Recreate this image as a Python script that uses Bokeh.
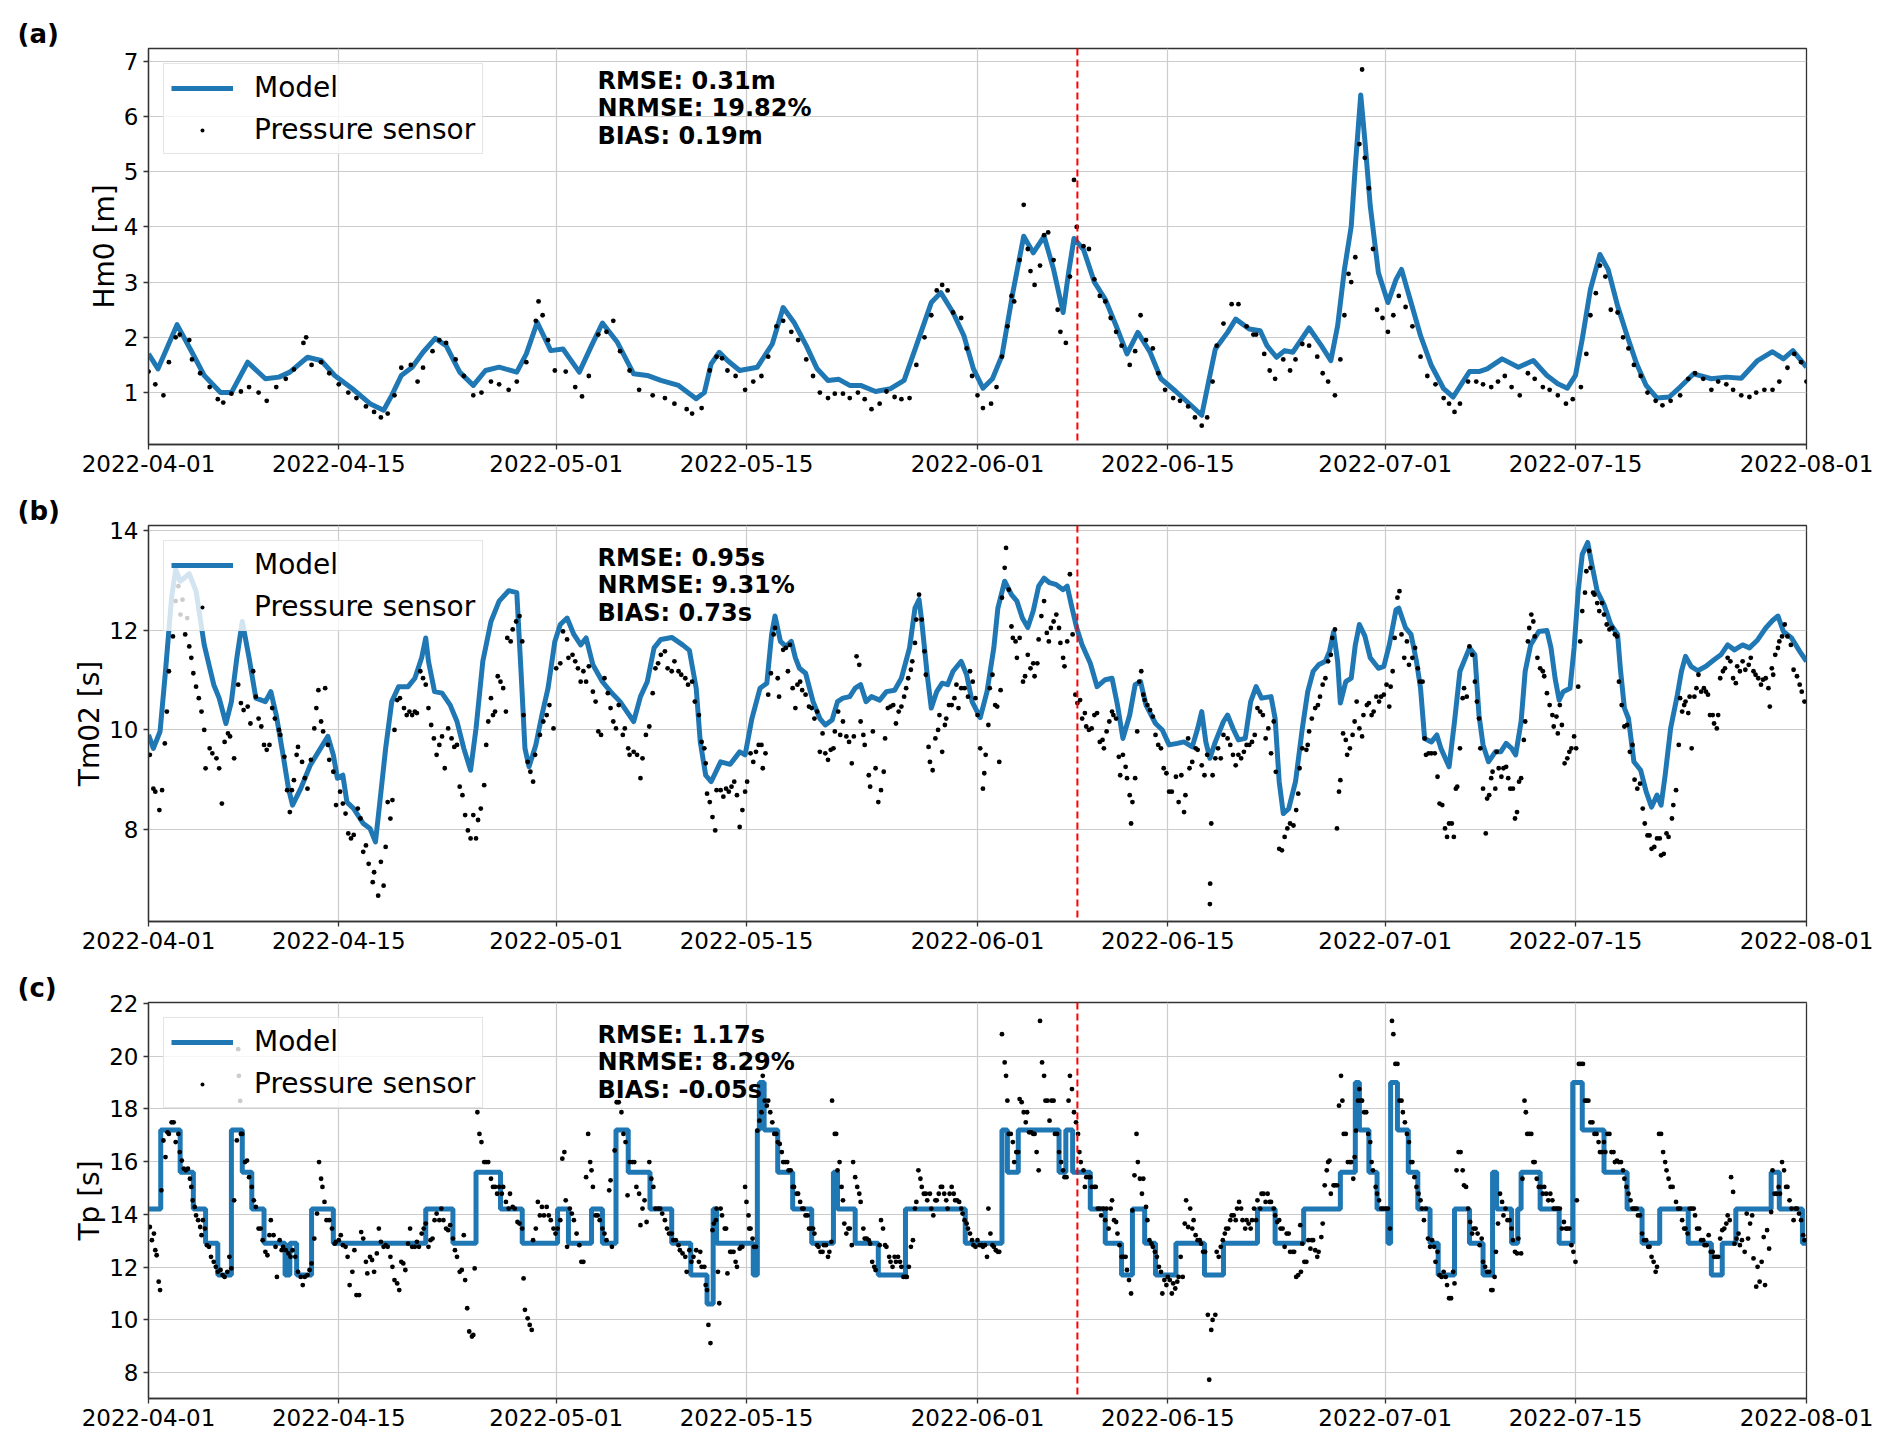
import pandas as pd
from bokeh.plotting import figure
from bokeh.layouts import column
from bokeh.models import Range1d, Span, Label, Legend, LegendItem
from bokeh.embed import file_html
from bokeh.resources import INLINE

# ---------------- data ----------------
START = "2022-04-01"
END = "2022-08-01"
tick_dates = ["2022-04-01", "2022-04-15", "2022-05-01", "2022-05-15", "2022-06-01",
              "2022-06-15", "2022-07-01", "2022-07-15", "2022-08-01"]
split_date = "2022-06-08 08:24"   # red dashed line

# (day since 2022-04-01, value)
hm0_model = [
    (0, 1.70), (0.7, 1.43), (2.1, 2.23), (3.2, 1.73), (4.1, 1.31), (5.3, 1.0), (6.1, 1.0), (7.3, 1.55),
    (8.6, 1.25), (9.6, 1.28), (10.4, 1.37), (11.7, 1.64), (12.7, 1.58), (13.7, 1.31), (15.0, 1.07),
    (16.3, 0.8), (17.3, 0.68), (17.9, 0.95), (18.6, 1.31), (19.4, 1.46), (20.2, 1.73), (21.1, 1.98),
    (21.9, 1.85), (22.9, 1.37), (23.9, 1.13), (24.8, 1.40), (25.8, 1.46), (27.1, 1.37), (27.8, 1.70),
    (28.6, 2.27), (29.6, 1.76), (30.5, 1.79), (31.7, 1.37), (32.6, 1.85), (33.4, 2.26), (34.5, 1.91),
    (35.7, 1.34), (36.7, 1.31), (37.7, 1.22), (39.0, 1.13), (40.3, 0.89), (40.9, 1.0), (41.4, 1.52),
    (42.0, 1.73), (42.6, 1.58), (43.5, 1.40), (44.8, 1.46), (45.9, 1.88), (46.7, 2.54), (47.5, 2.27),
    (48.4, 1.85), (49.2, 1.43), (50.0, 1.22), (50.8, 1.24), (51.6, 1.13), (52.4, 1.13), (53.5, 1.02),
    (54.6, 1.07), (55.6, 1.22), (56.5, 1.85), (57.6, 2.63), (58.3, 2.81), (59.2, 2.45), (60.0, 2.03),
    (60.7, 1.43), (61.4, 1.08), (62.1, 1.25), (62.8, 1.67), (63.6, 2.81), (64.4, 3.83), (65.1, 3.53),
    (65.9, 3.83), (66.6, 3.23), (67.3, 2.45), (67.7, 3.17), (68.1, 3.79), (68.8, 3.59), (69.6, 3.0),
    (70.4, 2.69), (71.2, 2.21), (72.0, 1.70), (72.8, 2.09), (73.7, 1.73), (74.5, 1.25), (75.6, 1.02),
    (76.7, 0.77), (77.5, 0.59), (78.0, 1.19), (78.5, 1.79), (79.4, 2.09), (80.0, 2.33), (81.0, 2.15),
    (81.8, 2.12), (82.3, 1.85), (83.0, 1.64), (83.6, 1.76), (84.2, 1.73), (85.4, 2.17), (86.3, 1.85),
    (87.0, 1.58), (87.5, 2.21), (88.0, 3.23), (88.5, 4.01), (88.8, 5.10), (89.2, 6.39), (89.5, 5.58),
    (89.9, 4.38), (90.5, 3.17), (91.2, 2.63), (91.8, 3.05), (92.2, 3.23), (92.9, 2.63), (93.6, 2.03),
    (94.4, 1.49), (95.3, 1.07), (96.0, 0.92), (96.7, 1.19), (97.2, 1.38), (97.9, 1.38), (98.5, 1.43),
    (99.6, 1.61), (100.8, 1.46), (101.9, 1.58), (102.9, 1.31), (103.7, 1.16), (104.4, 1.08),
    (105.0, 1.31), (105.5, 1.97), (106.1, 2.87), (106.8, 3.50), (107.4, 3.23), (108.1, 2.57),
    (108.8, 2.03), (109.5, 1.52), (110.2, 1.13), (111.0, 0.90), (111.9, 0.92), (112.7, 1.10),
    (113.7, 1.34), (115.0, 1.25), (116.1, 1.28), (117.2, 1.26), (118.4, 1.58), (119.5, 1.74),
    (120.3, 1.61), (121.0, 1.76), (122.0, 1.46)]

hm0_sensor = [
    (0.0, 1.38), (0.5, 1.15), (1.1, 0.95), (1.5, 1.55), (2.0, 2.0), (2.3, 2.05), (3.0, 1.95), (3.2, 1.6),
    (3.8, 1.35), (4.5, 1.1), (5.1, 0.88), (5.5, 0.82), (6.1, 0.98), (6.8, 1.02), (7.4, 1.1), (8.1, 1.0),
    (8.7, 0.85), (9.4, 1.1), (10.1, 1.25), (10.7, 1.42), (11.4, 1.9), (11.6, 2.0), (12.0, 1.5), (12.7, 1.55),
    (13.3, 1.35), (14.0, 1.15), (14.7, 1.0), (15.3, 0.9), (16.0, 0.75), (16.6, 0.65), (17.1, 0.55),
    (17.6, 0.62), (18.1, 0.95), (18.6, 1.45), (19.3, 1.5), (19.8, 1.2), (20.2, 1.45), (20.9, 1.75),
    (21.4, 1.95), (21.9, 1.9), (22.6, 1.6), (23.2, 1.3), (23.9, 0.95), (24.5, 1.0), (25.2, 1.2),
    (25.8, 1.15), (26.5, 1.05), (27.1, 1.2), (27.8, 1.55), (28.5, 2.3), (28.7, 2.65), (29.0, 2.4),
    (29.4, 1.95), (29.9, 1.4), (30.7, 1.38), (31.4, 1.1), (31.9, 0.93), (32.4, 1.3), (33.1, 2.05),
    (33.7, 2.1), (34.2, 2.3), (34.7, 1.75), (35.4, 1.4), (36.1, 1.05), (37.1, 0.95), (38.0, 0.9),
    (38.7, 0.8), (39.6, 0.7), (40.0, 0.62), (40.7, 0.72), (41.3, 1.4), (41.8, 1.65), (42.2, 1.62),
    (42.6, 1.4), (43.2, 1.3), (43.9, 1.05), (44.5, 1.2), (45.1, 1.3), (45.6, 1.65), (46.2, 2.2),
    (46.7, 2.3), (47.3, 2.1), (47.8, 1.95), (48.4, 1.6), (48.9, 1.3), (49.4, 1.0), (50.0, 0.9),
    (50.5, 0.98), (51.1, 0.98), (51.6, 0.9), (52.2, 1.0), (52.7, 0.88), (53.2, 0.7), (53.8, 0.8),
    (54.3, 1.02), (54.9, 0.92), (55.4, 0.88), (56.0, 0.9), (56.5, 1.5), (57.1, 2.0), (57.6, 2.4),
    (58.0, 2.85), (58.4, 2.95), (58.8, 2.85), (59.2, 2.45), (59.8, 2.35), (60.2, 1.8), (60.6, 1.3),
    (61.0, 0.95), (61.4, 0.72), (62.0, 0.8), (62.4, 1.1), (62.8, 1.65), (63.2, 2.2), (63.5, 2.75),
    (63.7, 2.65), (64.1, 3.4), (64.4, 4.4), (64.7, 3.6), (64.9, 3.2), (65.2, 2.95), (65.6, 3.3),
    (65.9, 3.85), (66.2, 3.9), (66.6, 3.4), (66.9, 2.5), (67.1, 2.1), (67.5, 1.9), (67.8, 3.1),
    (68.1, 4.85), (68.3, 4.0), (68.8, 3.65), (69.2, 3.6), (69.6, 3.05), (70.0, 2.75), (70.4, 2.65),
    (70.8, 2.35), (71.2, 2.1), (71.6, 1.85), (72.2, 1.5), (72.6, 1.75), (73.0, 2.4), (73.4, 1.95),
    (73.9, 1.8), (74.3, 1.35), (74.8, 1.05), (75.4, 0.9), (75.9, 0.85), (76.5, 0.75), (77.0, 0.55),
    (77.5, 0.4), (77.9, 0.55), (78.3, 1.2), (78.6, 1.85), (79.1, 2.25), (79.7, 2.6), (80.2, 2.6),
    (80.8, 2.2), (81.3, 2.05), (81.5, 2.05), (82.1, 1.7), (82.5, 1.4), (82.9, 1.25), (83.5, 1.6),
    (84.0, 1.4), (84.4, 1.6), (84.9, 1.88), (85.4, 1.85), (86.0, 1.65), (86.4, 1.35), (86.8, 1.2),
    (87.3, 0.95), (87.7, 1.6), (88.0, 2.4), (88.3, 3.15), (88.5, 3.0), (88.8, 3.45), (89.1, 5.5),
    (89.3, 6.85), (89.5, 5.25), (89.8, 4.7), (90.1, 3.6), (90.4, 2.5), (90.8, 2.35), (91.2, 2.1),
    (91.6, 2.4), (92.0, 2.75), (92.5, 2.55), (93.0, 2.2), (93.6, 1.65), (94.1, 1.3), (94.7, 1.15),
    (95.3, 0.9), (95.7, 0.8), (96.1, 0.65), (96.5, 0.8), (97.1, 1.2), (97.7, 1.2), (98.2, 1.15),
    (98.8, 1.1), (99.3, 1.2), (99.8, 1.3), (100.3, 1.1), (100.9, 0.95), (101.5, 1.35), (102.0, 1.25),
    (102.6, 1.1), (103.1, 1.05), (103.7, 0.95), (104.3, 0.8), (104.8, 0.88), (105.4, 1.1), (105.8, 1.7),
    (106.1, 2.4), (106.5, 2.8), (106.8, 3.3), (107.2, 3.1), (107.6, 2.5), (108.1, 2.45), (108.5, 2.0),
    (108.9, 1.8), (109.3, 1.5), (109.8, 1.3), (110.3, 1.0), (110.9, 0.85), (111.4, 0.77), (112.0, 0.85),
    (112.7, 0.95), (113.3, 1.25), (113.8, 1.35), (114.4, 1.25), (115.0, 1.05), (115.5, 1.2),
    (116.1, 1.15), (116.6, 1.05), (117.2, 0.95), (117.8, 0.92), (118.3, 1.0), (118.9, 1.05),
    (119.5, 1.05), (120.0, 1.2), (120.6, 1.45), (121.1, 1.7), (121.6, 1.55), (122.0, 1.2)]

tm02_model = [
    (0, 9.9), (0.36, 9.63), (0.85, 9.97), (1.25, 11.18), (1.7, 12.66), (2.0, 13.23), (2.33, 12.99),
    (3.0, 13.14), (3.5, 12.79), (4.1, 11.71), (4.8, 10.91), (5.2, 10.64), (5.7, 10.13), (6.1, 10.57),
    (6.5, 11.45), (6.9, 12.18), (7.4, 11.45), (7.9, 10.64), (8.6, 10.57), (9.0, 10.77), (9.4, 10.30),
    (9.9, 9.5), (10.3, 8.82), (10.6, 8.49), (11.2, 8.82), (11.9, 9.29), (12.5, 9.56), (13.2, 9.87),
    (13.6, 9.5), (13.9, 9.03), (14.3, 9.09), (14.6, 8.55), (15.1, 8.42), (15.8, 8.12), (16.3, 8.02),
    (16.7, 7.75), (17.0, 8.49), (17.45, 9.63), (17.9, 10.57), (18.4, 10.87), (19.1, 10.87), (19.6, 11.04),
    (20.1, 11.45), (20.4, 11.85), (20.6, 11.38), (21.05, 10.77), (21.6, 10.74), (22.2, 10.5),
    (22.7, 10.17), (23.2, 9.63), (23.7, 9.19), (24.1, 10.03), (24.6, 11.38), (25.2, 12.18), (25.8, 12.59),
    (26.5, 12.8), (27.1, 12.76), (27.4, 11.24), (27.7, 9.63), (28.0, 9.26), (28.5, 9.70), (28.95, 10.3),
    (29.4, 10.84), (29.9, 11.78), (30.3, 12.12), (30.8, 12.25), (31.3, 11.92), (31.8, 11.71),
    (32.2, 11.85), (32.7, 11.31), (33.4, 10.97), (34.0, 10.77), (34.7, 10.57), (35.2, 10.37),
    (35.7, 10.17), (36.2, 10.67), (36.7, 10.97), (37.2, 11.65), (37.7, 11.82), (38.5, 11.86),
    (39.3, 11.71), (39.8, 11.6), (40.3, 10.84), (40.6, 9.76), (41.0, 9.09), (41.4, 8.96), (42.1, 9.36),
    (42.8, 9.31), (43.5, 9.56), (43.9, 9.5), (44.4, 10.23), (45.0, 10.84), (45.5, 10.94), (45.85, 11.92),
    (46.1, 12.29), (46.5, 11.78), (46.9, 11.68), (47.3, 11.78), (47.6, 11.45), (47.9, 11.24),
    (48.35, 11.14), (48.9, 10.57), (49.4, 10.23), (49.8, 10.1), (50.3, 10.2), (50.7, 10.57),
    (51.1, 10.64), (51.6, 10.67), (52.0, 10.84), (52.4, 10.91), (52.8, 10.57), (53.2, 10.67),
    (53.8, 10.6), (54.3, 10.77), (54.9, 10.8), (55.4, 11.04), (56.0, 11.65), (56.4, 12.45),
    (56.7, 12.62), (56.9, 12.18), (57.3, 11.11), (57.6, 10.44), (58.0, 10.77), (58.4, 10.94),
    (58.8, 10.91), (59.2, 11.18), (59.8, 11.38), (60.2, 11.11), (60.6, 10.57), (61.2, 10.25),
    (61.7, 10.77), (62.2, 11.65), (62.5, 12.45), (63.0, 12.99), (63.5, 12.72), (63.9, 12.59),
    (64.3, 12.25), (64.7, 12.06), (65.1, 12.39), (65.5, 12.89), (65.9, 13.05), (66.3, 12.96),
    (66.8, 12.92), (67.3, 12.82), (67.6, 12.89), (67.9, 12.52), (68.3, 12.05), (68.7, 11.71),
    (69.3, 11.34), (69.8, 10.87), (70.4, 11.01), (70.9, 11.04), (71.3, 10.5), (71.7, 9.83), (72.2, 10.3),
    (72.6, 10.91), (73.0, 10.97), (73.4, 10.5), (74.1, 10.13), (74.6, 10.0), (75.1, 9.7), (75.7, 9.73),
    (76.2, 9.76), (76.8, 9.66), (77.2, 10.03), (77.5, 10.37), (77.8, 9.76), (78.1, 9.43), (78.5, 9.76),
    (79.1, 10.17), (79.4, 10.3), (79.8, 10.03), (80.2, 9.8), (80.7, 9.83), (81.1, 10.57), (81.5, 10.87),
    (81.9, 10.64), (82.6, 10.67), (82.9, 10.23), (83.2, 8.96), (83.5, 8.32), (83.9, 8.42), (84.4, 8.96),
    (84.9, 10.03), (85.3, 10.77), (85.7, 11.18), (86.1, 11.31), (86.6, 11.38), (86.9, 11.58),
    (87.2, 11.97), (87.5, 11.38), (87.7, 10.54), (88.1, 10.97), (88.5, 11.04), (88.8, 11.71),
    (89.1, 12.12), (89.5, 11.89), (89.9, 11.45), (90.5, 11.24), (90.9, 11.28), (91.3, 11.71),
    (91.8, 12.42), (92.0, 12.45), (92.5, 12.05), (92.9, 11.92), (93.3, 11.38), (93.6, 10.84),
    (93.9, 9.83), (94.4, 9.76), (94.8, 9.9), (95.1, 9.63), (95.7, 9.26), (96.1, 10.17), (96.5, 11.18),
    (96.9, 11.45), (97.2, 11.65), (97.6, 11.51), (97.9, 10.3), (98.2, 9.7), (98.6, 9.36), (99.1, 9.56),
    (99.5, 9.56), (99.9, 9.73), (100.3, 9.63), (100.6, 9.5), (101.0, 10.17), (101.3, 11.18),
    (101.7, 11.71), (102.3, 11.98), (102.9, 12.0), (103.2, 11.65), (103.5, 11.04), (103.8, 10.6),
    (104.1, 10.77), (104.6, 10.84), (104.9, 11.65), (105.2, 12.79), (105.5, 13.53), (105.9, 13.77),
    (106.2, 13.33), (106.6, 12.79), (107.1, 12.52), (107.6, 12.12), (108.1, 11.92), (108.3, 11.24),
    (108.6, 10.44), (108.9, 10.23), (109.3, 9.36), (109.8, 9.19), (110.2, 8.76), (110.6, 8.45),
    (111.0, 8.69), (111.3, 8.49), (111.6, 9.09), (112.0, 10.03), (112.5, 10.71), (112.8, 11.18),
    (113.1, 11.48), (113.5, 11.28), (114.0, 11.19), (114.6, 11.28), (115.2, 11.41), (115.7, 11.51),
    (116.2, 11.71), (116.7, 11.61), (117.3, 11.71), (117.8, 11.65), (118.4, 11.81), (119.0, 12.05),
    (119.5, 12.2), (119.9, 12.29), (120.3, 11.98), (120.9, 11.85), (121.5, 11.58), (122.0, 11.38)]

tm02_sensor = [
    (0.1, 9.5), (0.36, 8.82), (0.5, 8.76), (0.8, 8.39), (1.0, 8.79), (1.2, 9.73), (1.35, 10.37), (1.5, 11.18),
    (1.8, 11.88), (2.0, 12.59), (2.2, 12.89), (2.35, 12.32), (2.5, 12.62), (2.7, 11.92), (2.85, 12.25),
    (3.0, 11.68), (3.15, 11.45), (3.3, 11.14), (3.5, 10.87), (3.7, 10.64), (3.9, 10.37), (4.1, 10.0),
    (4.2, 9.23), (4.5, 9.63), (4.7, 9.53), (5.0, 9.43), (5.2, 9.23), (5.4, 8.52), (5.6, 9.76), (5.85, 9.93),
    (6.0, 9.87), (6.3, 9.43), (6.6, 10.91), (6.8, 10.54), (7.0, 10.4), (7.3, 10.47), (7.5, 10.13),
    (7.7, 11.18), (7.9, 10.67), (8.1, 10.23), (8.3, 10.07), (8.5, 9.7), (8.7, 9.6), (8.9, 9.7), (9.1, 10.44),
    (9.3, 10.23), (9.6, 10.0), (9.7, 9.9), (10.0, 9.46), (10.2, 8.79), (10.4, 8.35), (10.55, 8.79),
    (10.7, 8.99), (10.9, 9.5), (11.0, 9.66), (11.3, 9.36), (11.5, 9.03), (11.7, 8.82), (11.95, 9.4),
    (12.2, 10.03), (12.35, 10.44), (12.5, 10.8), (12.7, 10.17), (12.85, 9.97), (13.0, 10.84), (13.2, 9.7),
    (13.3, 9.4), (13.6, 9.16), (13.8, 8.49), (14.1, 8.76), (14.3, 8.52), (14.5, 8.32), (14.7, 7.92),
    (14.9, 7.82), (15.1, 7.89), (15.4, 8.42), (15.6, 8.22), (15.8, 7.55), (16.0, 7.68), (16.2, 7.31),
    (16.5, 6.94), (16.6, 7.14), (16.9, 6.67), (17.1, 7.35), (17.3, 6.87), (17.45, 7.65), (17.6, 8.55),
    (17.8, 8.22), (17.95, 8.59), (18.1, 10.0), (18.3, 10.6), (18.5, 10.64), (18.8, 10.44), (19.0, 10.3),
    (19.2, 10.37), (19.4, 10.3), (19.6, 10.37), (19.75, 10.34), (20.0, 11.18), (20.2, 11.04),
    (20.4, 10.91), (20.6, 10.44), (20.8, 10.1), (21.0, 9.83), (21.2, 9.5), (21.4, 9.7), (21.6, 9.87),
    (21.8, 9.23), (22.05, 10.03), (22.3, 9.83), (22.5, 9.66), (22.7, 9.7), (22.9, 8.86), (23.1, 8.69),
    (23.3, 8.29), (23.5, 7.98), (23.7, 7.82), (23.9, 8.29), (24.1, 7.82), (24.25, 8.19), (24.45, 8.42),
    (24.7, 8.89), (24.85, 9.7), (25.0, 10.17), (25.2, 10.64), (25.35, 10.3), (25.5, 10.37), (25.7, 11.08),
    (25.9, 10.97), (26.1, 10.84), (26.3, 10.37), (26.4, 11.85), (26.65, 11.78), (26.8, 12.02),
    (27.05, 12.18), (27.3, 12.29), (27.5, 11.78), (27.6, 10.3), (27.9, 9.36), (28.1, 9.16), (28.3, 8.96),
    (28.45, 9.5), (28.8, 9.9), (29.05, 10.17), (29.3, 10.3), (29.5, 10.5), (29.8, 10.03), (30.0, 11.24),
    (30.3, 11.34), (30.5, 11.98), (30.8, 11.82), (30.9, 11.45), (31.2, 11.51), (31.4, 11.38),
    (31.6, 11.24), (31.8, 10.97), (32.0, 11.18), (32.2, 10.97), (32.4, 11.28), (32.7, 10.77),
    (32.9, 10.57), (33.1, 9.97), (33.3, 9.9), (33.55, 11.04), (33.8, 10.74), (34.0, 10.44), (34.2, 10.17),
    (34.4, 10.03), (34.6, 10.5), (34.9, 9.9), (35.05, 10.03), (35.3, 9.63), (35.4, 9.5), (35.7, 9.56),
    (35.95, 9.5), (36.2, 9.03), (36.35, 9.43), (36.6, 9.9), (36.85, 10.07), (37.1, 10.74), (37.3, 11.24),
    (37.5, 11.34), (37.7, 11.51), (38.0, 11.58), (38.2, 11.24), (38.5, 11.18), (38.7, 11.38),
    (39.0, 11.18), (39.2, 11.11), (39.5, 11.04), (39.7, 10.91), (40.0, 10.97), (40.2, 10.57), (40.5, 10.3),
    (40.7, 9.76), (40.9, 9.63), (41.0, 9.33), (41.1, 8.72), (41.3, 8.55), (41.5, 8.25), (41.7, 7.98),
    (41.8, 8.79), (42.1, 8.79), (42.3, 8.66), (42.5, 8.82), (42.7, 8.76), (42.9, 8.86), (43.1, 8.96),
    (43.3, 8.69), (43.5, 8.05), (43.7, 8.39), (43.9, 8.76), (44.05, 8.96), (44.3, 9.53), (44.5, 9.36),
    (44.7, 9.56), (44.9, 9.7), (45.1, 9.7), (45.2, 9.23), (45.4, 9.53), (45.6, 10.71), (45.8, 11.14),
    (46.0, 11.92), (46.1, 12.05), (46.3, 11.04), (46.4, 10.67), (46.7, 11.61), (46.9, 11.65),
    (47.05, 11.18), (47.2, 11.71), (47.4, 10.84), (47.6, 10.44), (47.75, 10.91), (47.95, 10.97),
    (48.1, 10.8), (48.35, 10.71), (48.6, 10.47), (48.8, 10.44), (49.0, 10.23), (49.2, 10.37), (49.4, 9.56),
    (49.6, 9.93), (49.8, 9.53), (50.0, 9.4), (50.2, 9.6), (50.4, 9.63), (50.5, 9.97), (50.75, 10.37),
    (50.9, 9.9), (51.1, 10.17), (51.35, 9.87), (51.55, 9.76), (51.75, 9.33), (51.9, 9.87), (52.1, 11.48),
    (52.3, 11.31), (52.4, 10.17), (52.6, 9.9), (52.7, 9.7), (53.0, 9.09), (53.1, 8.86), (53.3, 9.97),
    (53.5, 9.23), (53.7, 8.55), (53.9, 8.79), (54.1, 9.16), (54.2, 9.83), (54.4, 10.44), (54.6, 10.47),
    (54.8, 10.5), (55.0, 10.13), (55.2, 10.37), (55.4, 10.47), (55.6, 10.67), (55.75, 10.84),
    (55.9, 11.04), (56.1, 11.21), (56.2, 11.38), (56.4, 11.75), (56.5, 12.22), (56.7, 12.72),
    (56.9, 12.22), (57.1, 11.58), (57.2, 11.11), (57.4, 9.66), (57.5, 9.36), (57.7, 9.19), (57.9, 9.83),
    (58.1, 10.0), (58.2, 10.3), (58.4, 9.56), (58.6, 10.1), (58.7, 10.23), (58.9, 10.5), (59.1, 10.5),
    (59.3, 10.64), (59.45, 10.91), (59.6, 10.44), (59.8, 10.84), (60.05, 10.84), (60.3, 10.67),
    (60.45, 11.18), (60.65, 10.97), (60.85, 10.64), (61.0, 10.3), (61.2, 9.63), (61.4, 8.82), (61.5, 9.13),
    (61.6, 9.5), (61.8, 10.1), (61.9, 10.84), (62.1, 11.11), (62.3, 10.5), (62.45, 10.47), (62.6, 9.36),
    (62.7, 10.8), (62.8, 12.66), (63.0, 13.26), (63.1, 13.66), (63.3, 12.82), (63.5, 12.08),
    (63.6, 11.85), (63.8, 11.78), (63.9, 11.45), (64.1, 11.85), (64.35, 10.97), (64.5, 11.08),
    (64.7, 11.51), (64.9, 11.24), (65.1, 11.34), (65.2, 11.08), (65.4, 11.34), (65.5, 11.82),
    (65.7, 12.29), (65.9, 12.59), (66.1, 11.95), (66.25, 11.78), (66.4, 12.05), (66.6, 12.18),
    (66.8, 12.32), (67.0, 12.05), (67.1, 11.75), (67.3, 11.45), (67.4, 11.28), (67.6, 11.78),
    (67.8, 13.13), (68.0, 11.92), (68.2, 10.71), (68.35, 10.54), (68.55, 10.6), (68.7, 10.23),
    (68.9, 10.34), (69.0, 10.07), (69.2, 10.0), (69.4, 10.03), (69.6, 10.3), (69.8, 10.34), (70.0, 9.76),
    (70.2, 9.8), (70.3, 9.63), (70.5, 9.97), (70.7, 10.17), (70.9, 10.37), (71.0, 10.3), (71.2, 10.23),
    (71.4, 9.46), (71.5, 9.09), (71.7, 9.5), (71.9, 9.26), (72.0, 9.03), (72.2, 8.69), (72.3, 8.12),
    (72.4, 8.55), (72.6, 9.03), (72.75, 9.97), (72.9, 10.97), (73.05, 11.18), (73.2, 10.71), (73.3, 10.6),
    (73.5, 10.5), (73.7, 10.4), (73.9, 10.27), (74.1, 9.9), (74.3, 9.7), (74.5, 9.63), (74.7, 9.23),
    (74.9, 9.13), (75.1, 8.76), (75.3, 8.76), (75.6, 9.06), (75.8, 8.55), (76.0, 9.09), (76.2, 8.35),
    (76.3, 8.69), (76.5, 9.83), (76.6, 9.23), (76.8, 9.36), (77.05, 9.63), (77.2, 9.6), (77.5, 9.29),
    (77.7, 9.09), (77.9, 9.5), (78.1, 6.5), (78.12, 6.91), (78.2, 8.12), (78.3, 9.09), (78.5, 9.43),
    (78.7, 9.63), (78.9, 9.43), (79.1, 9.9), (79.4, 9.83), (79.6, 9.7), (79.8, 9.5), (80.0, 9.29),
    (80.2, 9.5), (80.4, 9.43), (80.6, 9.56), (80.8, 9.7), (81.0, 9.7), (81.2, 9.76), (81.4, 9.9),
    (81.6, 10.44), (81.8, 10.37), (82.0, 10.3), (82.2, 9.83), (82.4, 10.03), (82.6, 9.53), (82.8, 10.17),
    (82.95, 9.16), (83.2, 7.61), (83.4, 7.58), (83.6, 7.85), (83.8, 8.02), (84.0, 8.12), (84.25, 8.08),
    (84.45, 8.39), (84.6, 8.72), (84.7, 9.23), (84.9, 9.63), (85.2, 9.6), (85.3, 9.7), (85.4, 9.97),
    (85.6, 10.23), (85.85, 10.44), (86.05, 10.5), (86.2, 10.67), (86.4, 10.91), (86.6, 11.04),
    (86.8, 11.38), (87.0, 11.51), (87.1, 11.85), (87.3, 12.02), (87.45, 8.02), (87.6, 8.76), (87.7, 8.99),
    (87.9, 9.93), (88.1, 9.8), (88.2, 9.5), (88.4, 9.63), (88.6, 9.9), (88.75, 10.17), (88.9, 10.57),
    (89.1, 10.03), (89.3, 9.87), (89.4, 10.3), (89.65, 10.5), (89.8, 10.54), (90.0, 10.3), (90.15, 10.37),
    (90.35, 10.67), (90.55, 10.57), (90.7, 10.67), (90.9, 10.71), (91.1, 10.91), (91.3, 10.47),
    (91.4, 10.87), (91.55, 11.18), (91.7, 11.85), (91.9, 12.66), (92.05, 12.79), (92.2, 11.92),
    (92.4, 11.45), (92.6, 11.78), (92.75, 11.31), (93.0, 11.45), (93.2, 11.65), (93.4, 11.24),
    (93.55, 10.97), (93.75, 10.97), (93.9, 9.83), (94.0, 9.5), (94.2, 9.53), (94.4, 9.53), (94.65, 9.53),
    (94.85, 9.06), (95.0, 8.52), (95.2, 8.49), (95.4, 8.02), (95.55, 7.85), (95.7, 8.12), (95.9, 8.12),
    (96.05, 7.85), (96.2, 8.82), (96.3, 8.86), (96.5, 9.63), (96.7, 10.64), (96.8, 10.84), (97.0, 10.67),
    (97.2, 11.68), (97.4, 11.51), (97.6, 10.97), (97.75, 10.57), (97.9, 10.23), (98.0, 9.63), (98.2, 8.82),
    (98.4, 7.92), (98.5, 8.62), (98.65, 8.69), (98.8, 9.03), (98.9, 9.16), (99.1, 8.82), (99.2, 9.56),
    (99.35, 9.23), (99.55, 9.06), (99.7, 9.23), (99.9, 9.26), (100.05, 9.03), (100.2, 8.82), (100.4, 8.82),
    (100.55, 8.22), (100.7, 8.35), (100.85, 8.96), (101.0, 9.03), (101.2, 9.8), (101.3, 10.17),
    (101.5, 11.78), (101.6, 12.05), (101.75, 12.32), (101.9, 12.18), (102.0, 11.88), (102.2, 11.45),
    (102.4, 11.24), (102.6, 11.18), (102.7, 11.08), (102.9, 10.74), (103.1, 10.5), (103.3, 10.3),
    (103.4, 10.07), (103.6, 10.27), (103.7, 9.93), (103.85, 10.5), (104.0, 10.1), (104.2, 9.33),
    (104.4, 9.43), (104.55, 9.56), (104.7, 9.63), (104.9, 9.87), (105.05, 9.63), (105.2, 10.87),
    (105.35, 11.78), (105.5, 12.39), (105.7, 12.76), (105.8, 13.19), (106.0, 13.6), (106.1, 13.26),
    (106.3, 12.76), (106.4, 12.72), (106.6, 12.55), (106.75, 12.39), (106.95, 12.55), (107.1, 12.32),
    (107.3, 12.12), (107.5, 12.02), (107.7, 12.05), (107.9, 11.92), (108.05, 11.88), (108.2, 10.97),
    (108.4, 10.5), (108.6, 10.07), (108.8, 10.1), (109.0, 9.56), (109.2, 9.7), (109.35, 9.0),
    (109.55, 8.82), (109.75, 8.92), (109.95, 8.42), (110.1, 8.12), (110.3, 7.88), (110.45, 7.88),
    (110.6, 7.61), (110.8, 7.65), (111.0, 7.82), (111.2, 7.82), (111.3, 7.48), (111.5, 7.51),
    (111.7, 7.92), (111.85, 7.85), (112.1, 8.22), (112.2, 8.49), (112.4, 8.79), (112.6, 9.7),
    (112.7, 10.64), (112.85, 10.37), (113.0, 10.5), (113.1, 10.57), (113.3, 10.34), (113.4, 10.67),
    (113.55, 9.63), (113.75, 10.67), (113.9, 10.84), (114.05, 11.11), (114.25, 10.77), (114.45, 10.84),
    (114.6, 10.77), (114.75, 10.71), (114.9, 10.3), (115.1, 10.3), (115.2, 10.13), (115.4, 10.03),
    (115.5, 10.3), (115.65, 11.04), (115.85, 11.18), (116.0, 11.24), (116.2, 11.45), (116.4, 11.38),
    (116.6, 11.04), (116.8, 10.94), (116.9, 11.28), (117.1, 11.18), (117.3, 11.38), (117.5, 11.21),
    (117.75, 11.31), (117.9, 11.45), (118.1, 11.18), (118.25, 11.11), (118.45, 11.04), (118.65, 10.91),
    (118.8, 11.01), (119.0, 11.04), (119.2, 10.84), (119.3, 10.47), (119.45, 11.24), (119.55, 11.11),
    (119.7, 11.51), (119.9, 11.65), (120.0, 11.78), (120.2, 11.88), (120.4, 12.12), (120.6, 11.88),
    (120.85, 11.71), (121.05, 11.21), (121.3, 11.08), (121.5, 10.91), (121.65, 10.77), (121.85, 10.57)]

# model Tp: (start day of step, value held until the next step)
tp_model = [
    (0, 14.2), (0.9, 17.2), (2.33, 15.6), (3.3, 14.2), (4.2, 12.9), (5.1, 11.7), (6.1, 17.2), (6.9, 15.6),
    (7.6, 14.2), (8.5, 12.9), (10.05, 11.7), (10.4, 12.9), (10.9, 11.7), (12.0, 14.2), (13.6, 12.9),
    (20.4, 14.2), (22.4, 12.9), (24.1, 15.6), (25.9, 14.2), (27.5, 12.9), (30.1, 14.2), (30.9, 12.9),
    (32.6, 14.2), (33.4, 12.9), (34.4, 17.2), (35.3, 15.6), (36.9, 14.2), (38.5, 12.9), (39.9, 11.7),
    (41.1, 10.6), (41.55, 14.2), (41.8, 12.9), (44.5, 11.7), (44.8, 17.2), (44.95, 19.0), (45.3, 17.2),
    (46.3, 15.6), (47.4, 14.2), (48.8, 12.9), (50.4, 15.6), (50.7, 14.2), (52.0, 12.9), (53.7, 11.7),
    (55.7, 14.2), (60.1, 12.9), (62.8, 17.2), (63.2, 15.6), (64.0, 17.2), (67.0, 15.6), (67.5, 17.2),
    (68.0, 15.6), (69.3, 14.2), (70.4, 12.9), (71.6, 11.7), (72.4, 14.2), (73.3, 12.9), (74.1, 11.7),
    (75.6, 12.9), (77.7, 11.7), (79.1, 12.9), (81.6, 14.2), (82.9, 12.9), (85.0, 14.2), (87.7, 15.6),
    (88.8, 19.0), (89.1, 17.2), (89.8, 15.6), (90.4, 14.2), (91.2, 12.9), (91.4, 19.0), (91.9, 17.2),
    (92.7, 15.6), (93.4, 14.2), (94.3, 12.9), (94.9, 11.7), (96.1, 14.2), (97.2, 12.9), (98.2, 11.7),
    (98.9, 15.6), (99.2, 14.2), (100.3, 12.9), (100.75, 14.2), (101.0, 15.6), (102.4, 14.2),
    (103.8, 12.9), (104.8, 19.0), (105.5, 17.2), (107.1, 15.6), (108.8, 14.2), (109.9, 12.9),
    (111.2, 14.2), (113.3, 12.9), (115.0, 11.7), (115.8, 12.9), (116.8, 14.2), (119.4, 15.6),
    (120.0, 14.2), (121.7, 12.9), (122.0, 12.9)]

tp_sensor = [
    (0.1, 13.52), (0.25, 13.02), (0.4, 13.27), (0.5, 12.64), (0.6, 12.45), (0.75, 11.45), (0.85, 11.13),
    (0.95, 14.91), (1.1, 16.8), (1.25, 16.17), (1.4, 17.11), (1.5, 17.05), (1.7, 17.49), (1.85, 17.49),
    (2.0, 16.74), (2.2, 17.05), (2.3, 16.36), (2.45, 16.04), (2.6, 15.73), (2.75, 15.67), (2.9, 15.73),
    (3.05, 15.35), (3.15, 15.04), (3.25, 14.53), (3.4, 14.28), (3.5, 13.96), (3.65, 13.78), (3.8, 13.52),
    (3.9, 13.21), (4.0, 13.78), (4.15, 13.46), (4.3, 12.83), (4.45, 12.77), (4.6, 12.39), (4.8, 12.2),
    (4.95, 12.01), (5.1, 11.82), (5.3, 11.89), (5.45, 11.7), (5.6, 11.63), (5.8, 11.82), (5.95, 12.39),
    (6.1, 11.95), (6.3, 14.53), (6.5, 16.8), (6.6, 20.26), (6.65, 19.25), (6.75, 18.3), (6.8, 17.05),
    (6.9, 17.05), (7.1, 15.98), (7.25, 16.04), (7.4, 15.41), (7.6, 15.04), (7.75, 14.53), (7.9, 14.28),
    (8.1, 13.46), (8.25, 13.46), (8.4, 13.02), (8.6, 12.58), (8.75, 12.45), (8.9, 13.21), (9.0, 13.78),
    (9.2, 13.21), (9.35, 12.77), (9.45, 11.63), (9.65, 13.02), (9.8, 12.64), (9.9, 12.77), (10.1, 12.64),
    (10.3, 12.52), (10.45, 12.39), (10.6, 12.64), (10.8, 12.39), (11.0, 11.82), (11.2, 11.63),
    (11.35, 11.32), (11.5, 11.63), (11.7, 11.7), (11.85, 11.89), (12.0, 12.14), (12.2, 13.08),
    (12.4, 14.03), (12.55, 15.98), (12.7, 15.35), (12.8, 15.04), (12.95, 14.47), (13.1, 13.78),
    (13.3, 13.78), (13.5, 13.46), (13.7, 12.89), (13.8, 12.96), (14.0, 13.02), (14.15, 13.21),
    (14.3, 12.83), (14.5, 12.77), (14.65, 12.39), (14.8, 11.32), (15.0, 11.82), (15.15, 12.64),
    (15.3, 10.94), (15.5, 10.94), (15.65, 13.33), (15.8, 13.08), (16.0, 12.2), (16.1, 11.76),
    (16.3, 12.39), (16.45, 12.27), (16.6, 11.82), (16.8, 12.52), (16.95, 13.46), (17.1, 12.96),
    (17.3, 12.77), (17.45, 12.83), (17.6, 12.77), (17.8, 12.39), (17.95, 12.01), (18.1, 11.51),
    (18.3, 11.38), (18.45, 11.13), (18.6, 12.2), (18.75, 12.14), (18.9, 11.89), (19.1, 12.89),
    (19.25, 13.46), (19.4, 12.77), (19.6, 12.77), (19.75, 12.96), (19.9, 12.77), (20.1, 13.27),
    (20.25, 13.46), (20.4, 13.65), (20.6, 12.77), (20.75, 13.02), (20.9, 13.08), (21.05, 13.78),
    (21.2, 14.03), (21.4, 13.78), (21.55, 14.22), (21.7, 13.78), (21.9, 13.46), (22.05, 13.4),
    (22.2, 13.59), (22.4, 13.08), (22.55, 12.64), (22.7, 12.39), (22.9, 11.82), (23.05, 11.89),
    (23.2, 13.21), (23.3, 11.51), (23.45, 10.44), (23.6, 9.56), (23.8, 9.37), (23.9, 9.43), (24.0, 11.95),
    (24.2, 17.87), (24.35, 17.05), (24.5, 16.74), (24.7, 15.98), (24.85, 15.98), (25.0, 15.98),
    (25.2, 15.35), (25.35, 15.04), (25.5, 15.04), (25.65, 14.78), (25.8, 15.04), (26.0, 14.78),
    (26.1, 15.04), (26.3, 14.47), (26.5, 14.22), (26.6, 14.78), (26.8, 14.28), (26.95, 14.22),
    (27.15, 13.71), (27.3, 13.65), (27.5, 13.46), (27.6, 11.57), (27.7, 10.38), (27.9, 10.06),
    (28.05, 9.81), (28.2, 9.62), (28.3, 13.02), (28.5, 13.46), (28.65, 14.47), (28.8, 13.96),
    (28.95, 14.28), (29.1, 13.96), (29.3, 14.28), (29.45, 13.96), (29.6, 13.78), (29.8, 13.46),
    (29.95, 13.27), (30.1, 13.46), (30.3, 13.78), (30.45, 16.11), (30.6, 16.36), (30.7, 14.53),
    (30.8, 12.77), (31.0, 14.22), (31.15, 14.03), (31.3, 13.78), (31.5, 13.27), (31.7, 12.83),
    (31.85, 12.2), (32.0, 12.2), (32.2, 15.41), (32.35, 17.05), (32.5, 15.98), (32.6, 15.67),
    (32.7, 15.04), (32.9, 13.96), (33.05, 13.96), (33.2, 13.78), (33.4, 13.46), (33.55, 13.27),
    (33.7, 13.02), (33.9, 14.91), (34.0, 15.29), (34.1, 12.77), (34.3, 16.42), (34.45, 18.25),
    (34.6, 18.25), (34.8, 17.87), (34.95, 17.05), (35.1, 16.74), (35.25, 14.72), (35.4, 15.98),
    (35.6, 15.98), (35.75, 15.98), (35.9, 15.04), (36.1, 14.78), (36.2, 13.59), (36.35, 14.22),
    (36.5, 14.53), (36.65, 13.71), (36.85, 15.98), (37.0, 15.35), (37.15, 15.04), (37.3, 14.22),
    (37.5, 14.22), (37.65, 14.22), (37.8, 14.03), (38.0, 13.78), (38.15, 13.46), (38.3, 13.27),
    (38.5, 13.27), (38.6, 13.02), (38.8, 13.02), (39.0, 12.83), (39.1, 12.64), (39.3, 12.52),
    (39.5, 12.39), (39.6, 11.82), (39.8, 12.64), (39.95, 12.2), (40.1, 12.39), (40.3, 12.64),
    (40.5, 12.2), (40.6, 12.58), (40.7, 12.01), (40.9, 12.01), (41.0, 11.32), (41.1, 11.13), (41.2, 9.81),
    (41.35, 9.12), (41.5, 13.4), (41.6, 13.65), (41.75, 13.78), (41.8, 14.22), (41.9, 11.82),
    (42.0, 10.63), (42.1, 14.22), (42.2, 13.96), (42.4, 13.46), (42.5, 13.46), (42.6, 11.76),
    (42.8, 12.58), (42.9, 12.58), (43.05, 12.58), (43.2, 12.2), (43.3, 12.01), (43.5, 12.7),
    (43.6, 12.77), (43.7, 12.77), (43.9, 15.04), (44.0, 14.47), (44.15, 13.96), (44.2, 13.46),
    (44.3, 13.46), (44.45, 13.08), (44.55, 12.77), (44.7, 12.77), (44.8, 17.17), (44.95, 17.55),
    (45.1, 17.87), (45.2, 19.25), (45.35, 18.31), (45.5, 18.12), (45.6, 18.31), (45.75, 17.87),
    (45.9, 17.49), (46.05, 17.05), (46.2, 17.05), (46.3, 16.74), (46.45, 16.67), (46.6, 16.36),
    (46.7, 15.98), (46.85, 15.98), (47.0, 15.98), (47.1, 15.67), (47.25, 15.67), (47.4, 15.04),
    (47.5, 15.04), (47.7, 14.78), (47.8, 14.78), (47.95, 14.47), (48.1, 14.22), (48.2, 14.22),
    (48.35, 13.96), (48.5, 13.96), (48.6, 13.46), (48.75, 13.46), (48.9, 13.46), (49.0, 13.27),
    (49.2, 12.83), (49.3, 12.77), (49.45, 12.58), (49.6, 12.58), (49.7, 12.83), (49.85, 12.83),
    (50.0, 12.39), (50.1, 12.58), (50.25, 12.96), (50.3, 18.31), (50.5, 17.05), (50.6, 17.05),
    (50.7, 15.67), (50.85, 15.98), (51.0, 15.04), (51.1, 14.53), (51.2, 13.65), (51.35, 13.27),
    (51.5, 13.46), (51.6, 13.46), (51.75, 12.83), (51.85, 15.98), (52.0, 15.41), (52.15, 15.04),
    (52.3, 14.78), (52.4, 14.47), (52.6, 13.46), (52.7, 13.08), (52.85, 13.08), (53.0, 13.02),
    (53.1, 12.89), (53.25, 12.2), (53.4, 12.01), (53.5, 11.89), (53.8, 12.83), (53.9, 13.78),
    (54.05, 13.46), (54.2, 12.83), (54.3, 12.77), (54.5, 12.39), (54.6, 12.2), (54.75, 12.01),
    (54.9, 12.39), (55.0, 12.2), (55.15, 12.39), (55.3, 12.2), (55.4, 12.01), (55.55, 11.63),
    (55.7, 11.63), (55.8, 11.63), (55.95, 12.01), (56.1, 12.77), (56.25, 13.02), (56.4, 14.22),
    (56.5, 14.47), (56.65, 15.67), (56.8, 15.35), (56.9, 15.04), (57.05, 14.78), (57.2, 14.78),
    (57.3, 14.53), (57.5, 14.78), (57.6, 14.22), (57.75, 13.96), (57.9, 14.53), (58.0, 14.53),
    (58.15, 14.78), (58.3, 15.04), (58.4, 15.04), (58.55, 14.78), (58.7, 14.53), (58.8, 14.22),
    (58.95, 14.78), (59.1, 15.04), (59.25, 14.78), (59.35, 14.53), (59.5, 14.53), (59.65, 14.47),
    (59.8, 14.22), (59.9, 14.03), (60.05, 13.78), (60.2, 13.65), (60.3, 13.46), (60.45, 13.27),
    (60.6, 13.02), (60.7, 12.83), (60.85, 12.77), (61.0, 13.02), (61.15, 12.83), (61.3, 12.83),
    (61.4, 12.77), (61.55, 12.83), (61.7, 12.39), (61.8, 14.22), (61.95, 13.27), (62.1, 12.83),
    (62.2, 12.77), (62.35, 12.64), (62.5, 12.58), (62.6, 12.58), (62.8, 20.83), (63.0, 19.76),
    (63.1, 19.25), (63.2, 18.31), (63.3, 17.05), (63.45, 17.05), (63.6, 16.74), (63.7, 15.98),
    (63.85, 16.36), (64.0, 16.36), (64.1, 18.37), (64.25, 18.25), (64.4, 17.87), (64.55, 17.49),
    (64.65, 17.87), (64.8, 17.11), (64.95, 17.11), (65.1, 17.05), (65.2, 17.05), (65.35, 16.36),
    (65.5, 15.67), (65.6, 21.33), (65.75, 19.76), (65.9, 19.25), (66.0, 18.31), (66.15, 18.31),
    (66.3, 17.55), (66.45, 18.31), (66.6, 18.31), (66.7, 17.05), (66.85, 17.05), (67.0, 16.36),
    (67.15, 15.98), (67.3, 15.67), (67.4, 15.41), (67.55, 15.41), (67.7, 18.31), (67.8, 19.25),
    (67.95, 18.75), (68.1, 17.87), (68.25, 17.49), (68.4, 17.05), (68.5, 16.36), (68.6, 15.98),
    (68.8, 15.67), (68.9, 15.04), (69.0, 15.41), (69.2, 15.41), (69.3, 15.41), (69.4, 15.04),
    (69.6, 15.04), (69.7, 15.04), (69.85, 14.22), (70.0, 14.22), (70.1, 13.96), (70.25, 14.22),
    (70.4, 13.78), (70.5, 14.22), (70.65, 13.46), (70.8, 14.22), (70.9, 14.53), (71.05, 13.78),
    (71.2, 13.71), (71.3, 13.27), (71.45, 12.83), (71.6, 12.39), (71.75, 12.39), (71.9, 12.39),
    (72.0, 11.89), (72.15, 11.51), (72.3, 11.0), (72.4, 14.15), (72.55, 15.48), (72.7, 17.05),
    (72.8, 15.98), (72.95, 15.35), (73.1, 14.78), (73.2, 15.35), (73.4, 14.28), (73.5, 13.78),
    (73.65, 13.02), (73.8, 12.89), (73.9, 12.77), (74.05, 12.58), (74.2, 12.39), (74.35, 12.01),
    (74.5, 11.82), (74.6, 11.0), (74.75, 11.51), (74.9, 11.32), (75.0, 11.63), (75.15, 11.51),
    (75.3, 11.0), (75.4, 11.38), (75.55, 11.19), (75.7, 11.45), (75.8, 11.63), (75.95, 12.39),
    (76.1, 11.63), (76.25, 13.65), (76.35, 14.53), (76.5, 13.52), (76.65, 14.22), (76.8, 13.46),
    (76.9, 13.78), (77.05, 13.21), (77.2, 13.02), (77.35, 13.02), (77.45, 12.89), (77.6, 12.58),
    (77.75, 12.58), (77.95, 10.19), (78.05, 7.73), (78.2, 9.62), (78.3, 10.0), (78.5, 10.19),
    (78.6, 12.58), (78.75, 12.39), (78.9, 12.77), (79.05, 13.02), (79.2, 13.27), (79.3, 13.46),
    (79.45, 13.46), (79.6, 13.78), (79.7, 13.96), (79.85, 13.96), (80.0, 13.78), (80.1, 14.22),
    (80.25, 14.47), (80.4, 14.22), (80.5, 13.78), (80.7, 13.46), (80.8, 13.78), (80.95, 13.65),
    (81.1, 13.46), (81.2, 13.78), (81.35, 14.22), (81.5, 13.78), (81.6, 14.53), (81.8, 14.22),
    (81.9, 14.78), (82.05, 14.78), (82.2, 14.47), (82.35, 14.78), (82.5, 14.47), (82.6, 14.47),
    (82.8, 14.22), (82.9, 13.96), (83.05, 13.71), (83.2, 13.78), (83.3, 13.46), (83.45, 13.46),
    (83.6, 12.77), (83.75, 13.27), (83.9, 13.27), (84.0, 12.58), (84.2, 12.58), (84.3, 12.58),
    (84.45, 11.63), (84.6, 11.7), (84.75, 13.59), (84.8, 11.82), (84.9, 12.89), (85.05, 12.2),
    (85.2, 12.2), (85.35, 13.02), (85.5, 12.7), (85.6, 13.02), (85.7, 13.02), (85.85, 12.64),
    (86.0, 12.39), (86.1, 12.58), (86.3, 13.14), (86.4, 13.65), (86.55, 15.1), (86.7, 15.67),
    (86.8, 15.98), (86.9, 16.04), (87.0, 14.78), (87.2, 15.1), (87.3, 15.1), (87.45, 15.1), (87.6, 18.12),
    (87.75, 19.25), (87.85, 18.31), (87.95, 17.05), (88.1, 17.05), (88.25, 15.98), (88.4, 15.98),
    (88.5, 15.98), (88.65, 15.35), (88.75, 16.17), (88.85, 17.17), (89.0, 18.31), (89.1, 18.75),
    (89.2, 18.31), (89.3, 18.31), (89.45, 17.87), (89.6, 17.87), (89.75, 17.05), (89.9, 16.74),
    (90.0, 15.98), (90.1, 15.67), (90.3, 15.04), (90.4, 14.78), (90.55, 14.53), (90.7, 14.22),
    (90.85, 14.22), (91.05, 14.22), (91.2, 14.22), (91.35, 13.46), (91.5, 21.33), (91.6, 20.83),
    (91.75, 19.7), (91.9, 19.7), (92.05, 18.31), (92.2, 18.31), (92.3, 17.87), (92.45, 17.49),
    (92.6, 17.05), (92.75, 16.74), (92.9, 15.98), (93.0, 15.98), (93.15, 15.41), (93.3, 15.04),
    (93.45, 14.78), (93.6, 14.53), (93.7, 14.22), (93.85, 13.78), (94.0, 14.22), (94.15, 13.08),
    (94.3, 12.77), (94.45, 13.02), (94.6, 12.77), (94.7, 12.2), (94.85, 12.58), (95.0, 11.7),
    (95.15, 11.63), (95.3, 11.82), (95.45, 11.63), (95.55, 11.32), (95.7, 10.82), (95.85, 10.82),
    (96.0, 11.82), (96.1, 11.38), (96.25, 15.67), (96.4, 16.36), (96.55, 16.36), (96.7, 15.67),
    (96.8, 15.1), (96.95, 15.04), (97.1, 14.22), (97.25, 13.71), (97.4, 13.27), (97.5, 13.46),
    (97.65, 13.46), (97.8, 13.27), (97.95, 12.83), (98.1, 13.08), (98.2, 12.2), (98.35, 12.01),
    (98.5, 11.82), (98.65, 11.82), (98.8, 11.13), (98.9, 11.13), (99.05, 11.63), (99.15, 12.58),
    (99.3, 13.65), (99.45, 14.78), (99.6, 14.47), (99.7, 13.96), (99.85, 14.22), (100.0, 13.78),
    (100.15, 13.78), (100.3, 13.46), (100.4, 13.02), (100.55, 12.58), (100.7, 12.52), (100.8, 13.08),
    (101.0, 12.52), (101.1, 15.35), (101.25, 18.31), (101.35, 17.87), (101.45, 17.05), (101.6, 17.05),
    (101.75, 17.05), (101.9, 15.98), (102.0, 15.98), (102.15, 15.35), (102.3, 15.04), (102.45, 15.04),
    (102.6, 14.78), (102.7, 15.04), (102.85, 14.78), (103.0, 14.53), (103.15, 14.78), (103.3, 14.53),
    (103.4, 14.22), (103.55, 14.22), (103.7, 14.22), (103.85, 14.22), (104.0, 13.46), (104.15, 13.71),
    (104.3, 13.46), (104.4, 13.46), (104.55, 13.46), (104.7, 12.83), (104.85, 12.58), (105.0, 12.2),
    (105.1, 14.53), (105.25, 19.7), (105.4, 19.7), (105.55, 19.7), (105.7, 18.31), (105.8, 18.31),
    (105.95, 18.31), (106.1, 17.49), (106.25, 17.49), (106.4, 17.05), (106.55, 17.05), (106.7, 16.74),
    (106.8, 16.36), (106.95, 16.36), (107.1, 16.74), (107.2, 16.36), (107.35, 17.05), (107.5, 17.05),
    (107.65, 16.36), (107.8, 16.36), (107.9, 15.98), (108.05, 16.04), (108.2, 15.98), (108.35, 15.98),
    (108.5, 15.67), (108.6, 15.35), (108.75, 15.04), (108.9, 14.78), (109.05, 14.53), (109.2, 14.22),
    (109.35, 14.22), (109.5, 14.22), (109.6, 13.96), (109.75, 13.96), (109.9, 13.27), (110.05, 13.02),
    (110.2, 13.02), (110.35, 12.77), (110.45, 12.77), (110.6, 12.39), (110.75, 12.2), (110.9, 11.82),
    (111.0, 12.01), (111.15, 17.05), (111.3, 17.05), (111.45, 16.36), (111.6, 15.98), (111.7, 15.67),
    (111.85, 15.35), (112.0, 15.04), (112.15, 15.04), (112.4, 14.47), (112.55, 14.22), (112.7, 14.22),
    (112.85, 13.78), (113.0, 13.46), (113.1, 13.46), (113.25, 13.27), (113.4, 14.22), (113.55, 14.22),
    (113.7, 14.22), (113.8, 13.96), (113.95, 13.46), (114.1, 13.46), (114.25, 13.02), (114.4, 13.02),
    (114.5, 12.83), (114.65, 12.83), (114.8, 13.21), (114.95, 12.58), (115.1, 12.58), (115.2, 12.39),
    (115.35, 12.39), (115.5, 12.39), (115.65, 13.08), (115.8, 13.4), (115.95, 13.46), (116.1, 13.65),
    (116.2, 13.96), (116.35, 13.78), (116.45, 15.41), (116.6, 14.85), (116.7, 12.89), (116.85, 13.08),
    (117.0, 13.27), (117.1, 12.83), (117.25, 13.02), (117.45, 12.58), (117.6, 14.03), (117.7, 13.08),
    (117.85, 13.65), (118.0, 13.96), (118.1, 12.33), (118.3, 11.26), (118.4, 12.01), (118.55, 11.45),
    (118.7, 12.2), (118.85, 13.14), (118.95, 11.32), (119.1, 13.4), (119.25, 12.7), (119.4, 14.09),
    (119.5, 15.67), (119.65, 14.78), (119.8, 14.78), (119.95, 15.04), (120.05, 14.78), (120.2, 15.98),
    (120.35, 15.67), (120.5, 15.04), (120.6, 15.04), (120.75, 14.53), (120.9, 14.22), (121.05, 13.78),
    (121.2, 14.22), (121.3, 14.22), (121.45, 14.03), (121.6, 13.78), (121.75, 13.21), (121.85, 13.02)]

stats_a = ["RMSE: 0.31m", "NRMSE: 19.82%", "BIAS: 0.19m"]
stats_b = ["RMSE: 0.95s", "NRMSE: 9.31%", "BIAS: 0.73s"]
stats_c = ["RMSE: 1.17s", "NRMSE: 8.29%", "BIAS: -0.05s"]

# ---------------- helpers ----------------
T0 = pd.Timestamp(START)


def day_of(s):
    return (pd.Timestamp(s) - T0) / pd.Timedelta(days=1)


X_END = day_of(END)
XTICKS = [day_of(d) for d in tick_dates]
SPLIT = day_of(split_date)

FONT = "DejaVu Sans"
BLUE = "#1f77b4"
LEFT = 148
FRAME_W = 1658
FRAME_H = 396


def make_panel(tag, model, sensor, ylab, yr, yticks, stats, step=False, top=40, bottom=41):
    p = figure(width=LEFT + FRAME_W + 70, height=top + FRAME_H + bottom,
               x_range=Range1d(0, X_END), y_range=Range1d(*yr),
               output_backend="svg", toolbar_location=None,
               min_border_left=LEFT, min_border_right=70,
               min_border_top=top, min_border_bottom=bottom,
               background_fill_color="white", border_fill_color="white")
    p.outline_line_color = "#333333"
    p.outline_line_width = 1.3

    p.title.text = tag
    p.title.align = "left"
    p.title.offset = -(LEFT - 17)
    p.title.standoff = 0
    p.title.text_font = FONT
    p.title.text_font_size = "26px"
    p.title.text_font_style = "bold"
    p.title.text_color = "black"

    p.xaxis.ticker = XTICKS
    p.xaxis.major_label_overrides = {int(round(d)): lab for d, lab in zip(XTICKS, tick_dates)}
    p.yaxis.ticker = yticks
    for ax in (p.xaxis[0], p.yaxis[0]):
        ax.major_label_text_font = FONT
        ax.major_label_text_font_size = "23px"
        ax.major_label_text_color = "black"
        ax.major_tick_out = 5
        ax.major_tick_in = 0
        ax.minor_tick_line_color = None
        ax.axis_line_color = "#333333"
        ax.axis_line_width = 1.3
        ax.major_tick_line_color = "#333333"
        ax.major_tick_line_width = 1.3
        ax.major_label_standoff = 5
    p.yaxis.axis_label = ylab
    p.yaxis.axis_label_text_font = FONT
    p.yaxis.axis_label_text_font_size = "28px"
    p.yaxis.axis_label_text_font_style = "normal"
    p.yaxis.axis_label_text_color = "black"
    p.yaxis.axis_label_standoff = 0
    p.grid.grid_line_color = "#cccccc"
    p.grid.grid_line_width = 1.2

    mx = [d for d, v in model]
    my = [v for d, v in model]
    if step:
        r_model = p.step(mx, my, mode="after", line_color=BLUE, line_width=5)
    else:
        r_model = p.line(mx, my, line_color=BLUE, line_width=5, line_join="round")
    sx = [d for d, v in sensor]
    sy = [v for d, v in sensor]
    r_sens = p.scatter(sx, sy, size=4.8, fill_color="black", line_color="black", line_width=0)

    p.add_layout(Span(location=SPLIT, dimension="height", line_color="red",
                      line_dash="7 4", line_width=2))

    leg = Legend(items=[LegendItem(label="Model", renderers=[r_model]),
                        LegendItem(label="Pressure sensor", renderers=[r_sens])],
                 location="top_left")
    leg.margin = 15
    leg.padding = 7
    leg.spacing = 9
    leg.glyph_width = 62
    leg.glyph_height = 10
    leg.label_height = 10
    leg.label_standoff = 21
    leg.label_text_font = FONT
    leg.label_text_font_size = "28px"
    leg.label_text_color = "black"
    leg.border_line_color = "#cccccc"
    leg.border_line_width = 1
    leg.background_fill_color = "white"
    leg.background_fill_alpha = 0.8
    p.add_layout(leg)

    for i, s in enumerate(stats):
        p.add_layout(Label(x=597, y=top + 32 + 27.5 * i, x_units="canvas", y_units="canvas",
                           text=s, text_font=FONT, text_font_size="24px",
                           text_font_style="bold", text_baseline="middle",
                           text_align="left", text_color="black"))
    return p


pa = make_panel("(a)", hm0_model, hm0_sensor, "Hm0 [m]", (0.06, 7.23), [1, 2, 3, 4, 5, 6, 7],
                stats_a, top=48)
pb = make_panel("(b)", tm02_model, tm02_sensor, "Tm02 [s]", (6.15, 14.11), [8, 10, 12, 14], stats_b)
pc = make_panel("(c)", tp_model, tp_sensor, "Tp [s]", (7.02, 22.03), [8, 10, 12, 14, 16, 18, 20, 22],
                stats_c, step=True, bottom=40)

layout = column(pa, pb, pc)
open("out.html", "w").write(file_html(layout, INLINE))
